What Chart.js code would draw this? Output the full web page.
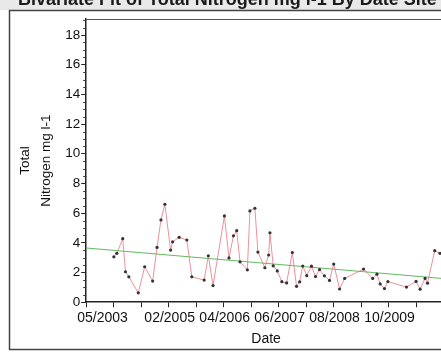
<!DOCTYPE html>
<html>
<head>
<meta charset="utf-8">
<script src="https://cdn.jsdelivr.net/npm/chart.js@4/dist/chart.umd.min.js"></script>
<style>
  html, body { margin: 0; padding: 0; background: #fff; width: 441px; height: 352px; overflow: hidden; }
  canvas { display: block; }
</style>
</head>
<body>
<canvas id="c" width="452" height="352"></canvas>
<script>
// Sampling dates and measured total nitrogen (mg l-1)
const sampleDates = [
  '2003-12-02', '2003-12-25', '2004-02-10', '2004-03-01', '2004-03-27', '2004-06-09',
  '2004-07-28', '2004-09-29', '2004-11-02', '2004-12-02', '2005-01-02', '2005-02-16',
  '2005-03-01', '2005-04-21', '2005-06-20', '2005-07-28', '2005-11-02', '2005-12-04',
  '2006-01-10', '2006-04-07', '2006-05-12', '2006-06-16', '2006-07-11', '2006-08-06',
  '2006-10-02', '2006-10-22', '2006-11-30', '2006-12-23', '2007-02-16', '2007-03-15',
  '2007-03-25', '2007-04-20', '2007-05-21', '2007-06-26', '2007-08-02', '2007-09-16',
  '2007-10-18', '2007-11-12', '2007-12-05', '2008-01-06', '2008-02-12', '2008-03-13',
  '2008-04-14', '2008-05-21', '2008-06-30', '2008-08-02', '2008-09-17', '2008-10-26',
  '2009-03-20', '2009-05-30', '2009-07-02', '2009-07-27', '2009-08-30', '2009-09-26',
  '2010-02-18', '2010-05-01', '2010-06-02', '2010-07-10', '2010-07-29', '2010-09-24',
  '2010-11-04'
];
const totalNitrogen = [
  3.06, 3.29, 4.28, 2.05, 1.71, 0.63,
  2.39, 1.42, 3.69, 5.54, 6.60, 3.51,
  4.07, 4.37, 4.19, 1.71, 1.49, 3.13,
  1.12, 5.81, 2.98, 4.47, 4.82, 2.72,
  2.18, 6.15, 6.33, 3.38, 2.32, 3.18,
  4.68, 2.45, 2.11, 1.38, 1.30, 3.35,
  1.07, 1.37, 2.44, 1.79, 2.43, 1.73,
  2.20, 1.78, 1.47, 2.57, 0.89, 1.60,
  2.23, 1.60, 1.89, 1.23, 0.92, 1.39,
  1.02, 1.40, 0.88, 1.60, 1.28, 3.47,
  3.29
];

// Linear fit, given by its two end values across the date axis
const fitDates = ['2003-05-01', '2010-12-20'];
const fitValues = [3.65, 1.58];

// Axis extent and ticks
const axisStart = '2003-05-01';
const axisEnd = '2010-12-20';
const tickStepMonths = 7;
const labeledTicks = ['05/2003', '02/2005', '04/2006', '06/2007', '08/2008', '10/2009'];
const yTicks = [0, 2, 4, 6, 8, 10, 12, 14, 16, 18];
const yMinorStep = 0.5;
const yMax = 19.08;

const heading = 'Bivariate Fit of Total Nitrogen mg l-1 By Date Site';
const FONT = '"Liberation Sans", Arial, sans-serif';

// Date string -> fractional months since January 2003
function monthIndex(s) {
  const [y, m, d] = s.split('-').map(Number);
  return (y - 2003) * 12 + (m - 1) + (d - 1) / 30.4;
}
function monthLabel(v) {
  const i = Math.round(v);
  const y = 2003 + Math.floor(i / 12);
  const m = (i % 12) + 1;
  return String(m).padStart(2, '0') + '/' + y;
}

const xMin = monthIndex(axisStart);
const xMax = monthIndex(axisEnd);
const xTickValues = [];
for (let v = xMin; v <= xMax + 1e-6; v += tickStepMonths) xTickValues.push(v);

const points = sampleDates.map((d, i) => ({ x: monthIndex(d), y: totalNitrogen[i] }));
const fitPoints = fitDates.map((d, i) => ({ x: monthIndex(d), y: fitValues[i] }));

// Report frame, heading, plot box, minor ticks and date labels
const decorations = {
  id: 'decorations',
  beforeDraw(chart) {
    const ctx = chart.ctx;
    ctx.save();
    ctx.fillStyle = '#fff';
    ctx.fillRect(0, 0, chart.width, chart.height);
    ctx.fillStyle = '#e9e9e9';
    ctx.fillRect(0, 0, chart.width, 10);
    ctx.fillStyle = '#1a1a1a';
    ctx.font = 'bold 18px ' + FONT;
    ctx.textAlign = 'left';
    ctx.textBaseline = 'alphabetic';
    ctx.fillText(heading, 18, 5);
    ctx.strokeStyle = '#444';
    ctx.lineWidth = 1.5;
    ctx.beginPath();
    ctx.moveTo(chart.width + 5, 10.5);
    ctx.lineTo(9.5, 10.5);
    ctx.lineTo(9.5, 349.5);
    ctx.lineTo(chart.width + 5, 349.5);
    ctx.stroke();
    ctx.restore();
  },
  afterDraw(chart) {
    const ctx = chart.ctx;
    const area = chart.chartArea;
    const ys = chart.scales.y;
    const xs = chart.scales.x;
    ctx.save();
    // plot box top edge
    ctx.strokeStyle = '#555';
    ctx.lineWidth = 1;
    ctx.beginPath();
    ctx.moveTo(area.left, area.top + 0.5);
    ctx.lineTo(area.right, area.top + 0.5);
    ctx.moveTo(area.right - 0.5, area.top);
    ctx.lineTo(area.right - 0.5, area.bottom);
    ctx.stroke();
    // minor ticks on the value axis
    ctx.strokeStyle = '#333';
    ctx.beginPath();
    for (let v = 0; v <= yMax; v += yMinorStep) {
      if (yTicks.includes(v)) continue;
      const py = Math.round(ys.getPixelForValue(v)) + 0.5;
      ctx.moveTo(area.left - 3, py);
      ctx.lineTo(area.left, py);
    }
    ctx.stroke();
    // date labels
    ctx.fillStyle = '#111';
    ctx.font = '14px ' + FONT;
    ctx.textAlign = 'center';
    ctx.textBaseline = 'middle';
    xs.ticks.forEach(t => {
      const lab = monthLabel(t.value);
      if (!labeledTicks.includes(lab)) return;
      const w = ctx.measureText(lab).width;
      let px = xs.getPixelForValue(t.value) + 1;
      px = Math.max(px, area.left - 9 + w / 2);
      ctx.fillText(lab, px, xs.top + 16);
    });
    ctx.restore();
  }
};

new Chart(document.getElementById('c'), {
  type: 'scatter',
  data: {
    datasets: [
      {
        label: 'Total Nitrogen mg l-1',
        data: points,
        showLine: true,
        borderColor: 'rgba(228, 110, 120, 0.75)',
        borderWidth: 1,
        pointRadius: 1.6,
        pointBackgroundColor: '#333',
        pointBorderWidth: 0,
        tension: 0
      },
      {
        label: 'Linear Fit',
        data: fitPoints,
        showLine: true,
        borderColor: 'rgba(80, 180, 80, 0.9)',
        borderWidth: 1.2,
        pointRadius: 0,
        tension: 0
      }
    ]
  },
  options: {
    responsive: false,
    animation: false,
    devicePixelRatio: 1,
    layout: { padding: { left: 10, right: 6, top: 19, bottom: 4 } },
    plugins: {
      legend: { display: false },
      tooltip: { enabled: false }
    },
    scales: {
      x: {
        type: 'linear',
        min: xMin,
        max: xMax,
        afterBuildTicks: (s) => { s.ticks = xTickValues.map(v => ({ value: v })); },
        ticks: { display: false },
        grid: { display: true, drawOnChartArea: false, drawTicks: true, tickLength: 5, color: '#222', tickWidth: 1 },
        border: { display: true, color: '#222', width: 1.5 },
        title: {
          display: true,
          text: 'Date',
          color: '#111',
          font: { family: FONT, size: 14, lineHeight: 1.2 },
          padding: { top: 24, bottom: 0 }
        }
      },
      y: {
        type: 'linear',
        min: 0,
        max: yMax,
        afterBuildTicks: (s) => { s.ticks = yTicks.map(v => ({ value: v })); },
        ticks: {
          color: '#111',
          padding: 1,
          font: { family: FONT, size: 13.5 },
          callback: (v) => String(v)
        },
        grid: { display: true, drawOnChartArea: false, drawTicks: true, tickLength: 5, color: '#222', tickWidth: 1 },
        border: { display: true, color: '#222', width: 1.5 },
        title: {
          display: true,
          text: ['Total', 'Nitrogen mg l-1'],
          color: '#111',
          font: { family: FONT, size: 13.5, lineHeight: 1.6 },
          padding: { top: 4, bottom: 7 }
        }
      }
    }
  },
  plugins: [decorations]
});
</script>
</body>
</html>
